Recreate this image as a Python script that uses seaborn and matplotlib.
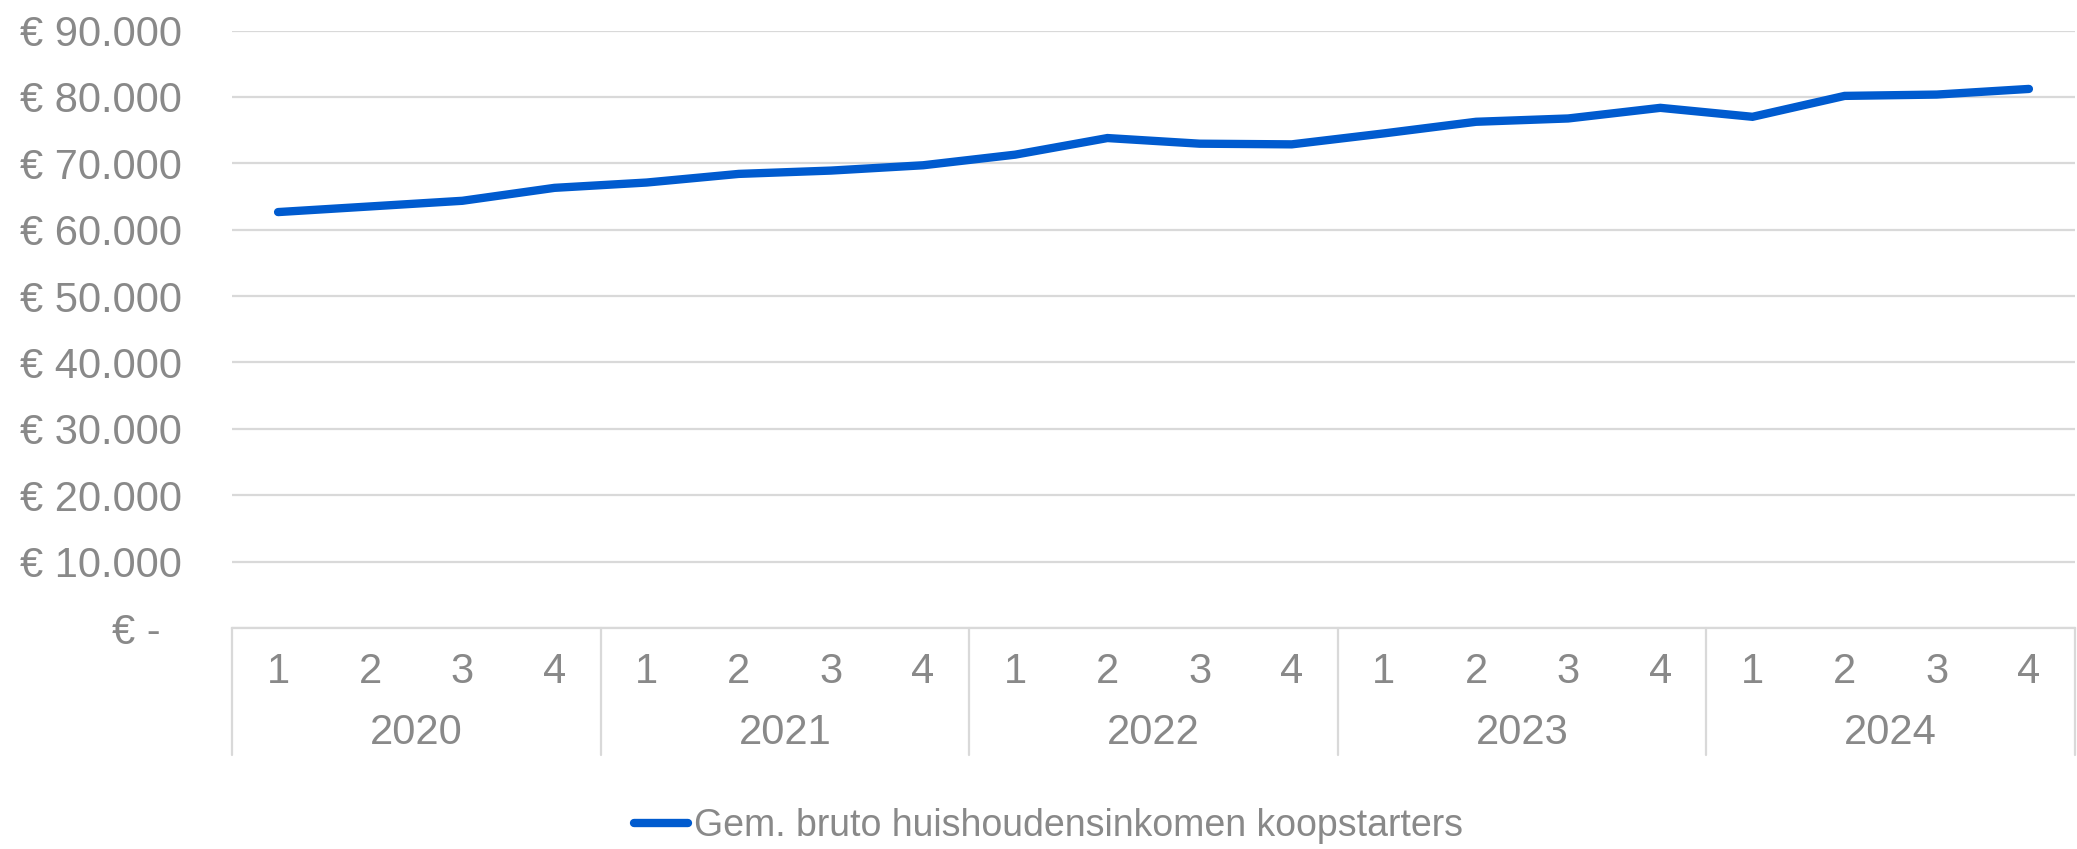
import matplotlib
matplotlib.use("Agg")
import matplotlib.pyplot as plt
import seaborn as sns
import pandas as pd
import numpy as np
from matplotlib.lines import Line2D

years = ["2020", "2021", "2022", "2023", "2024"]
quarters = ["1", "2", "3", "4"]
income = [62650, 63500, 64350, 66300,
          67100, 68400, 68900, 69700,
          71300, 73800, 72950, 72850,
          74500, 76250, 76750, 78350,
          77000, 80150, 80350, 81200]
series_name = "Gem. bruto huishoudensinkomen koopstarters"
yticks = [0, 10000, 20000, 30000, 40000, 50000, 60000, 70000, 80000, 90000]

sns.set_theme(style="white")
plt.rcParams['font.family'] = ['Liberation Sans', 'DejaVu Sans']

GREY = "#898989"
GRID = "#d9d9d9"
BLUE = "#005bcf"
FS = 30
LW = 6

df = pd.DataFrame({
    "pos": np.arange(len(income)),
    "value": income,
    "serie": series_name,
})

fig = plt.figure(figsize=(20.77, 8.49), dpi=100)
ax = fig.add_axes([232/2077, (849-628)/849, (2075-232)/2077, (628-30.5)/849])

sns.lineplot(data=df, x="pos", y="value", hue="serie", palette=[BLUE],
             linewidth=LW, ax=ax, legend=False,
             solid_capstyle="round", solid_joinstyle="miter")

ax.set_xlim(-0.5, len(income) - 0.5)
ax.set_ylim(0, 90000)
ax.set_yticks(yticks)
ax.set_yticklabels(["€ -\u2002" if v == 0 else "€ " + f"{v:,}".replace(",", ".") for v in yticks])
ax.tick_params(axis="y", length=0, pad=36, labelsize=FS, labelcolor=GREY)
ax.yaxis.grid(True, color=GRID, linewidth=1.6)
ax.xaxis.grid(False)
for s in ["top", "right", "left"]:
    ax.spines[s].set_visible(False)
ax.spines["bottom"].set_color(GRID)
ax.spines["bottom"].set_linewidth(1.6)

labels = [q for y in years for q in quarters]
ax.set_xticks(np.arange(len(labels)))
ax.set_xticklabels(labels)
ax.tick_params(axis="x", length=0, pad=17, labelsize=FS, labelcolor=GREY)
ax.set_xlabel("")
ax.set_ylabel("")

trans = ax.get_xaxis_transform()
n = len(quarters)
for i, yr in enumerate(years):
    ax.text(i * n + (n - 1) / 2, -0.1760, yr, transform=trans, ha="center", va="center",
            fontsize=FS, color=GREY)
for i in range(len(years) + 1):
    ax.plot([i * n - 0.5, i * n - 0.5], [0, -0.2126], transform=trans, color=GRID,
            linewidth=1.6, clip_on=False)

h = Line2D([0], [0], color=BLUE, linewidth=LW, solid_capstyle="round")
fig.legend([h], [series_name], loc="center", bbox_to_anchor=(0.5046, 0.027),
           frameon=False, fontsize=27, handlelength=1.45, handletextpad=0.15,
           labelcolor=GREY)

fig.savefig("out.png", dpi=100)
